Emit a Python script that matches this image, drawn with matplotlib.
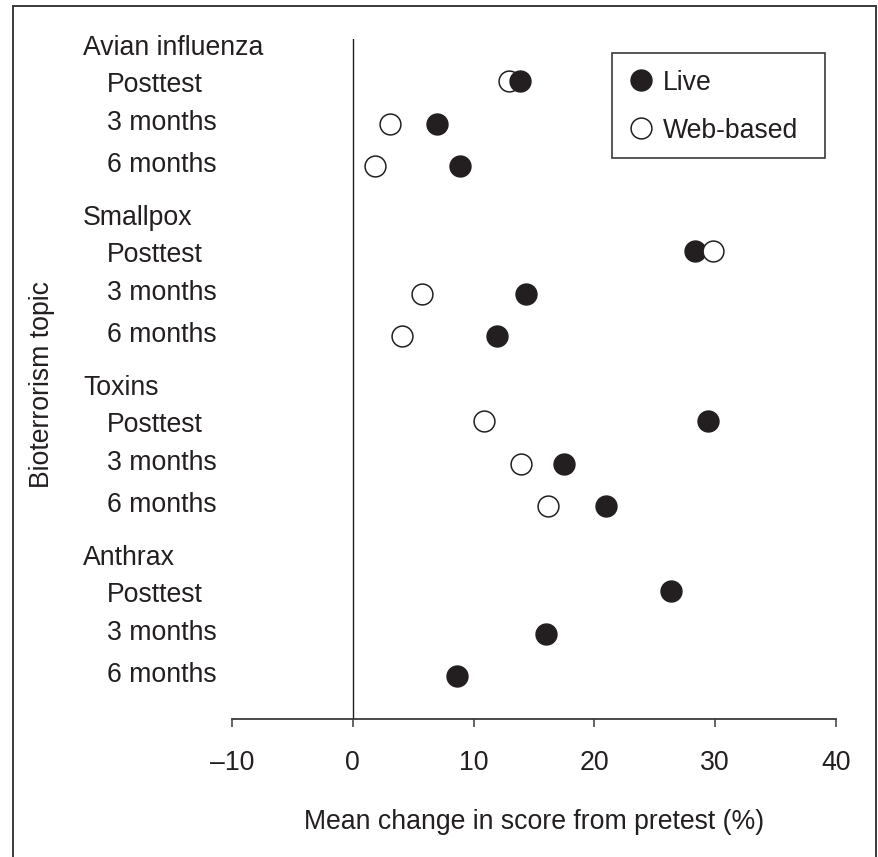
import matplotlib
matplotlib.use("Agg")
import matplotlib.pyplot as plt
import matplotlib.transforms as mtransforms
from matplotlib.lines import Line2D
from matplotlib.patches import Rectangle

plt.rcParams['font.family'] = ['Liberation Sans', 'DejaVu Sans']

# ---- data ----
topics = ["Avian influenza", "Smallpox", "Toxins", "Anthrax"]
timepoints = ["Posttest", "3 months", "6 months"]
live_values = [[13.8, 7.0, 8.9],
               [28.3, 14.3, 11.9],
               [29.4, 17.5, 21.0],
               [26.3, 16.0, 8.6]]
web_values = [[12.9, 3.1, 1.8],
              [29.8, 5.7, 4.1],
              [10.9, 13.9, 16.2],
              [None, None, None]]
xticks = [-10, 0, 10, 20, 30, 40]
xtick_labels = ["\u201310", "0", "10", "20", "30", "40"]
series_names = ["Live", "Web-based"]

W, H = 879, 857
FS = 19.2
DARK = '#231f20'
MS = 15
fig = plt.figure(figsize=(W / 100, H / 100), dpi=100)

def fx(px):
    return px / W

def fy(py):
    return 1 - py / H

ax = fig.add_axes([fx(232), fy(718.5), fx(836) - fx(232), fy(38.5) - fy(718.5)])
ax.set_xlim(-10, 40)
ax.set_ylim(16, 0)
for s in ['top', 'right', 'left']:
    ax.spines[s].set_visible(False)
ax.spines['bottom'].set_color('#3a3a3a')
ax.spines['bottom'].set_linewidth(1.3)
ax.set_yticks([])
ax.set_xticks(xticks)
ax.set_xticklabels(xtick_labels, fontsize=FS, color=DARK)
ax.tick_params(axis='x', direction='out', length=5.5, width=1.1, color='#3a3a3a', pad=17)
ax.axvline(0, color=DARK, lw=1.0, zorder=1)
ax.set_xlabel("Mean change in score from pretest (%)", fontsize=FS, color=DARK, labelpad=24)

trans = mtransforms.blended_transform_factory(fig.transFigure, ax.transData)

# text baseline offsets (row units) for header and the three sub-rows
header_off = 0.39
sub_off = [0.26, 0.16, 0.15]

row = 0
for ti, topic in enumerate(topics):
    ax.text(fx(83), row + header_off, topic, transform=trans, fontsize=FS, color=DARK,
            va='baseline', ha='left', clip_on=False)
    row += 1
    for pi, tp in enumerate(timepoints):
        ax.text(fx(107), row + sub_off[pi], tp, transform=trans, fontsize=FS, color=DARK,
                va='baseline', ha='left', clip_on=False)
        pts = []
        lv = live_values[ti][pi]
        wv = web_values[ti][pi]
        if lv is not None:
            pts.append((lv, DARK))
        if wv is not None:
            pts.append((wv, 'white'))
        pts.sort(key=lambda p: p[0])
        for k, (v, fc) in enumerate(pts):
            ax.plot([v], [row], 'o', ms=MS, mfc=fc, mec=DARK, mew=1.1,
                    zorder=3 + k, clip_on=False)
        row += 1

# y label
fig.text(fx(42), fy(385), "Bioterrorism topic", rotation=90, fontsize=FS,
         color=DARK, ha='center', va='center')

# legend box
fig.patches.append(Rectangle((fx(612), fy(158)), fx(825) - fx(612), fy(53) - fy(158),
                             transform=fig.transFigure, fill=False,
                             edgecolor='#3a3a3a', lw=1.2))
for name, fc, yy in [(series_names[0], DARK, 80), (series_names[1], 'white', 128)]:
    fig.lines.append(Line2D([fx(641)], [fy(yy)], marker='o', ms=MS, mfc=fc,
                            mec=DARK, mew=1.1, transform=fig.transFigure, ls='none'))
    fig.text(fx(663), fy(yy + 9.5), name, fontsize=FS, color=DARK, ha='left', va='baseline')

# outer frame (open at bottom)
frame_kw = dict(transform=fig.transFigure, color='#3a3a3a', lw=1.4)
fig.lines.append(Line2D([fx(13), fx(13)], [fy(857), fy(6)], **frame_kw))
fig.lines.append(Line2D([fx(13), fx(876)], [fy(6), fy(6)], **frame_kw))
fig.lines.append(Line2D([fx(876), fx(876)], [fy(6), fy(857)], **frame_kw))

fig.savefig("out.png", dpi=100)
